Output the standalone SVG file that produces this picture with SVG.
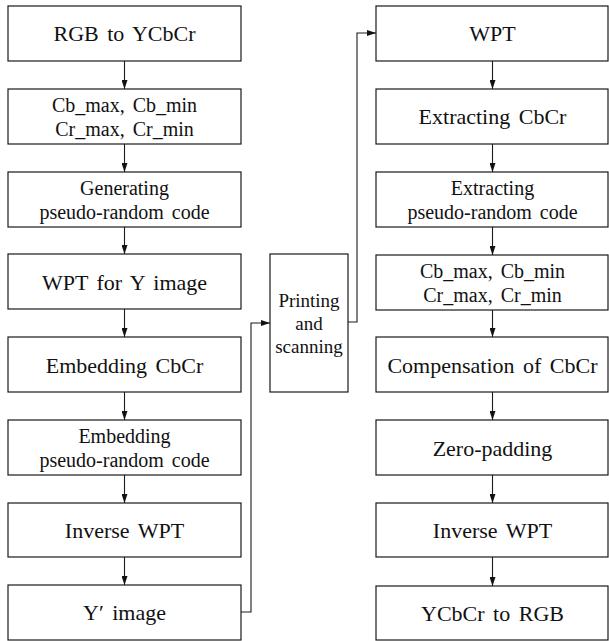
<svg xmlns="http://www.w3.org/2000/svg" width="609" height="641" viewBox="0 0 609 641">
<style>
.box{fill:#fff;stroke:#1a1a1a;stroke-width:1.2}
text{font-family:"Liberation Serif","DejaVu Serif","Times New Roman",serif;fill:#111;text-anchor:middle}
.t{font-size:22px;word-spacing:3px}
.d{font-size:20px;word-spacing:3px}
.s{font-size:19px}
.c{fill:none;stroke:#1a1a1a;stroke-width:1.1}
</style>
<defs>
<marker id="ah" markerUnits="userSpaceOnUse" markerWidth="9" markerHeight="6" refX="9" refY="3" orient="auto">
<path d="M0,0 L9,3 L0,6 z" fill="#111"/>
</marker>
</defs>
<g id="connectors">
<line class="c" x1="124.5" y1="61" x2="124.5" y2="89" marker-end="url(#ah)"/>
<line class="c" x1="124.5" y1="144" x2="124.5" y2="172" marker-end="url(#ah)"/>
<line class="c" x1="124.5" y1="227" x2="124.5" y2="254" marker-end="url(#ah)"/>
<line class="c" x1="124.5" y1="309" x2="124.5" y2="337" marker-end="url(#ah)"/>
<line class="c" x1="124.5" y1="392" x2="124.5" y2="420" marker-end="url(#ah)"/>
<line class="c" x1="124.5" y1="475" x2="124.5" y2="503" marker-end="url(#ah)"/>
<line class="c" x1="124.5" y1="557" x2="124.5" y2="585" marker-end="url(#ah)"/>
<polyline class="c" points="241,612 251,612 251,323 270,323" marker-end="url(#ah)"/>
<polyline class="c" points="348,322 357,322 357,33 376,33" marker-end="url(#ah)"/>
<line class="c" x1="492.5" y1="61" x2="492.5" y2="89" marker-end="url(#ah)"/>
<line class="c" x1="492.5" y1="144" x2="492.5" y2="172" marker-end="url(#ah)"/>
<line class="c" x1="492.5" y1="227" x2="492.5" y2="255" marker-end="url(#ah)"/>
<line class="c" x1="492.5" y1="310" x2="492.5" y2="337" marker-end="url(#ah)"/>
<line class="c" x1="492.5" y1="392" x2="492.5" y2="420" marker-end="url(#ah)"/>
<line class="c" x1="492.5" y1="475" x2="492.5" y2="503" marker-end="url(#ah)"/>
<line class="c" x1="492.5" y1="557" x2="492.5" y2="586" marker-end="url(#ah)"/>
</g>
<g id="l1"><rect class="box" x="8" y="6" width="233" height="55"/><text class="t" x="124.5" y="41">RGB to YCbCr</text></g>
<g id="l2"><rect class="box" x="8" y="89" width="233" height="55"/><text class="d" x="124.5" y="112">Cb_max, Cb_min</text><text class="d" x="124.5" y="136">Cr_max, Cr_min</text></g>
<g id="l3"><rect class="box" x="8" y="172" width="233" height="55"/><text class="d" x="124.5" y="195">Generating</text><text class="d" x="124.5" y="219">pseudo-random code</text></g>
<g id="l4"><rect class="box" x="8" y="254" width="233" height="55"/><text class="t" x="124.5" y="290">WPT for Y image</text></g>
<g id="l5"><rect class="box" x="8" y="337" width="233" height="55"/><text class="t" x="124.5" y="373">Embedding CbCr</text></g>
<g id="l6"><rect class="box" x="8" y="420" width="233" height="55"/><text class="d" x="124.5" y="443">Embedding</text><text class="d" x="124.5" y="467">pseudo-random code</text></g>
<g id="l7"><rect class="box" x="8" y="503" width="233" height="54"/><text class="t" x="124.5" y="538">Inverse WPT</text></g>
<g id="l8"><rect class="box" x="8" y="585" width="233" height="55"/><text class="t" x="124.5" y="620">Y′ image</text></g>
<g id="mid"><rect class="box" x="270" y="254" width="78" height="138"/><text class="s" x="309" y="307">Printing</text><text class="s" x="309" y="330">and</text><text class="s" x="309" y="353">scanning</text></g>
<g id="r1"><rect class="box" x="376" y="6" width="232" height="55"/><text class="t" x="492.5" y="41">WPT</text></g>
<g id="r2"><rect class="box" x="376" y="89" width="232" height="55"/><text class="t" x="492.5" y="124">Extracting CbCr</text></g>
<g id="r3"><rect class="box" x="376" y="172" width="232" height="55"/><text class="d" x="492.5" y="195">Extracting</text><text class="d" x="492.5" y="219">pseudo-random code</text></g>
<g id="r4"><rect class="box" x="376" y="255" width="232" height="55"/><text class="d" x="492.5" y="278">Cb_max, Cb_min</text><text class="d" x="492.5" y="302">Cr_max, Cr_min</text></g>
<g id="r5"><rect class="box" x="376" y="337" width="232" height="55"/><text class="t" x="492.5" y="373">Compensation of CbCr</text></g>
<g id="r6"><rect class="box" x="376" y="420" width="232" height="55"/><text class="t" x="492.5" y="456">Zero-padding</text></g>
<g id="r7"><rect class="box" x="376" y="503" width="232" height="54"/><text class="t" x="492.5" y="538">Inverse WPT</text></g>
<g id="r8"><rect class="box" x="376" y="586" width="232" height="54"/><text class="t" x="492.5" y="621">YCbCr to RGB</text></g>
</svg>
